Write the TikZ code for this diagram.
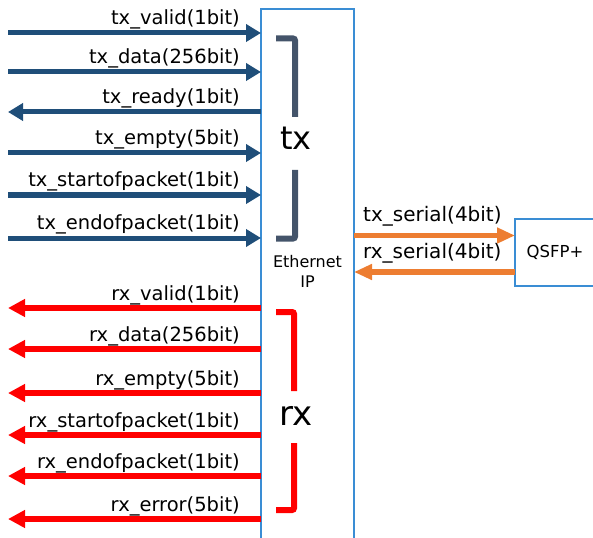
\documentclass[tikz,border=0pt]{standalone}
\usepackage{fontspec}
\setmainfont{DejaVu Sans}
\usetikzlibrary{arrows.meta}
\definecolor{txblue}{HTML}{1F4E79}
\definecolor{rxred}{HTML}{FF0000}
\definecolor{serorange}{HTML}{ED7D31}
\definecolor{boxblue}{HTML}{3A8DD4}
\definecolor{slate}{HTML}{44546A}
\tikzset{
  txsig/.style={line width=5pt, draw=txblue, -{Triangle[length=15pt,width=17pt]}},
  rxsig/.style={line width=5.5pt, draw=rxred, -{Triangle[length=17pt,width=17pt]}},
  sersig/.style={line width=5.5pt, draw=serorange, -{Triangle[length=18pt,width=15pt]}},
  siglabel/.style={anchor=base east, inner sep=0pt, font=\fontsize{19.5}{21}\selectfont},
  serlabel/.style={anchor=base west, inner sep=0pt, font=\fontsize{20}{21}\selectfont},
  bracket/.style={line width=6pt, rounded corners=2pt},
  unit/.style={draw=boxblue, line width=1.2pt}
}
\begin{document}
\begin{tikzpicture}[x=1pt,y=-1pt]
\useasboundingbox (0,0) rectangle (593,537);
\clip (0,0) rectangle (593,537);

% Ethernet IP block and QSFP+ module
\draw[unit] (261,9) rectangle (354,560);
\node[anchor=base, inner sep=0pt, font=\fontsize{16}{17}\selectfont] (ipname) at (307.5,267) {Ethernet};
\node[anchor=base, inner sep=0pt, font=\fontsize{16}{17}\selectfont] (ipname2) at (307.5,287) {IP};
\draw[unit] (515,219) rectangle (610,286);
\node[anchor=base, inner sep=0pt, font=\fontsize{16.5}{18}\selectfont] (qsfp) at (555,257) {QSFP+};

% connector end points on the block edges
\foreach \n/\y in {tv/33,td/72,tr/112,te/153,ts/195,tp/238,
                   rv/308,rd/349,re/393,rs/435,rp/476,rr/519}{
  \coordinate (\n-in) at (261,\y);
  \coordinate (\n-out) at (8,\y);
}
\coordinate (txs-a) at (354,235.5);
\coordinate (txs-b) at (515,235.5);
\coordinate (rxs-a) at (515,272);
\coordinate (rxs-b) at (354,272);

% tx side
\draw[txsig] (tv-out) -- (tv-in);
\draw[txsig] (td-out) -- (td-in);
\draw[txsig] (tr-in) -- (tr-out);
\draw[txsig] (te-out) -- (te-in);
\draw[txsig] (ts-out) -- (ts-in);
\draw[txsig] (tp-out) -- (tp-in);
\node[siglabel] (ltv) at (240,24.5) {tx\_valid(1bit)};
\node[siglabel] (ltd) at (240,63.5) {tx\_data(256bit)};
\node[siglabel] (ltr) at (240,103.5) {tx\_ready(1bit)};
\node[siglabel] (lte) at (240,144.5) {tx\_empty(5bit)};
\node[siglabel] (lts) at (240,186.5) {tx\_startofpacket(1bit)};
\node[siglabel] (ltp) at (240,229.5) {tx\_endofpacket(1bit)};

% rx side
\draw[rxsig] (rv-in) -- (rv-out);
\draw[rxsig] (rd-in) -- (rd-out);
\draw[rxsig] (re-in) -- (re-out);
\draw[rxsig] (rs-in) -- (rs-out);
\draw[rxsig] (rp-in) -- (rp-out);
\draw[rxsig] (rr-in) -- (rr-out);
\node[siglabel] (lrv) at (240,300.5) {rx\_valid(1bit)};
\node[siglabel] (lrd) at (240,341.5) {rx\_data(256bit)};
\node[siglabel] (lre) at (240,385.5) {rx\_empty(5bit)};
\node[siglabel] (lrs) at (240,427.5) {rx\_startofpacket(1bit)};
\node[siglabel] (lrp) at (240,468.5) {rx\_endofpacket(1bit)};
\node[siglabel] (lrr) at (240,511.5) {rx\_error(5bit)};

% serial lanes
\draw[sersig] (txs-a) -- (txs-b);
\draw[sersig] (rxs-a) -- (rxs-b);
\node[serlabel] (ltxs) at (363,221.5) {tx\_serial(4bit)};
\node[serlabel] (lrxs) at (363,258) {rx\_serial(4bit)};

% group brackets
\draw[bracket, slate] (276,38.5) -- (295,38.5) -- (295,117);
\draw[bracket, slate] (295,170) -- (295,238.5) -- (276,238.5);
\node[anchor=base, inner sep=0pt, font=\fontsize{32}{35}\selectfont] (txgrp) at (296,150) {tx};
\draw[bracket, rxred] (276,312) -- (294,312) -- (294,391);
\draw[bracket, rxred] (294,443) -- (294,510) -- (276,510);
\node[anchor=base, inner sep=0pt, font=\fontsize{34}{37}\selectfont] (rxgrp) at (296,425) {rx};
\end{tikzpicture}
\end{document}
